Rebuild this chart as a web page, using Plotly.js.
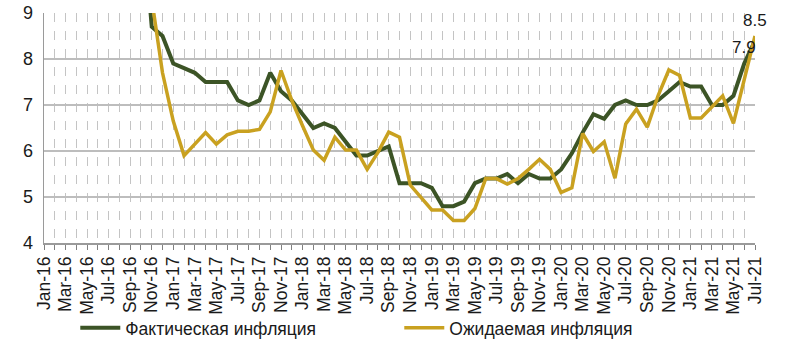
<!DOCTYPE html>
<html>
<head>
<meta charset="utf-8">
<script src="https://cdn.plot.ly/plotly-3.0.1.min.js"></script>
<style>
  html, body { margin: 0; padding: 0; background: #ffffff; }
  #chart { width: 800px; height: 358px; }
</style>
</head>
<body>
<div id="chart"></div>
<script>
// Month labels (Jan-16 .. Jul-21)
const months = [
  "Jan-16","Feb-16","Mar-16","Apr-16","May-16","Jun-16","Jul-16","Aug-16","Sep-16","Oct-16","Nov-16","Dec-16",
  "Jan-17","Feb-17","Mar-17","Apr-17","May-17","Jun-17","Jul-17","Aug-17","Sep-17","Oct-17","Nov-17","Dec-17",
  "Jan-18","Feb-18","Mar-18","Apr-18","May-18","Jun-18","Jul-18","Aug-18","Sep-18","Oct-18","Nov-18","Dec-18",
  "Jan-19","Feb-19","Mar-19","Apr-19","May-19","Jun-19","Jul-19","Aug-19","Sep-19","Oct-19","Nov-19","Dec-19",
  "Jan-20","Feb-20","Mar-20","Apr-20","May-20","Jun-20","Jul-20","Aug-20","Sep-20","Oct-20","Nov-20","Dec-20",
  "Jan-21","Feb-21","Mar-21","Apr-21","May-21","Jun-21","Jul-21"
];

// Фактическая инфляция (values above 9 are off the visible scale)
const actual = [
  13.6, 14.6, 15.6, 16.4, 16.7, 17.1, 17.5, 17.6, 17.4, 11.5, 8.7, 8.5,
  7.9, 7.8, 7.7, 7.5, 7.5, 7.5, 7.1, 7.0, 7.1, 7.7, 7.3, 7.1,
  6.8, 6.5, 6.6, 6.5, 6.2, 5.9, 5.9, 6.0, 6.1, 5.3, 5.3, 5.3,
  5.2, 4.8, 4.8, 4.9, 5.3, 5.4, 5.4, 5.5, 5.3, 5.5, 5.4, 5.4,
  5.6, 5.95, 6.4, 6.8, 6.7, 7.0, 7.1, 7.0, 7.0, 7.1, 7.3, 7.5,
  7.4, 7.4, 7.0, 7.0, 7.2, 7.9, 8.4
];

// Ожидаемая инфляция
const expected = [
  13.0, 13.4, 13.8, 14.2, 14.5, 14.0, 13.5, 13.2, 12.6, 11.4, 9.3, 7.7,
  6.65, 5.9, 6.15, 6.4, 6.15, 6.35, 6.43, 6.43, 6.47, 6.85, 7.75, 7.1,
  6.55, 6.02, 5.8, 6.3, 6.02, 6.02, 5.6, 5.97, 6.41, 6.3, 5.26, 4.98,
  4.72, 4.72, 4.49, 4.49, 4.75, 5.4, 5.4, 5.28, 5.4, 5.6, 5.82, 5.6,
  5.1, 5.2, 6.38, 5.99, 6.2, 5.41, 6.59, 6.91, 6.52, 7.2, 7.76, 7.64,
  6.72, 6.72, 6.95, 7.2, 6.6, 7.55, 8.5
];

const seriesNames = ["Фактическая инфляция", "Ожидаемая инфляция"];
const yTicks = [4, 5, 6, 7, 8, 9];

// label positions: every second month
const xIdx = months.map((m, i) => i);
const tickIdx = xIdx.filter(i => i % 2 === 0);
const tickText = tickIdx.map(i => months[i]);

const FONT = "Liberation Sans, Arial, sans-serif";
const GREEN = "#3c5426";
const GOLD = "#c9a120";

const traces = [
  {
    x: xIdx, y: actual, type: "scatter", mode: "lines",
    name: seriesNames[0],
    line: { color: GREEN, width: 4 },
    hoverinfo: "skip"
  },
  {
    x: xIdx, y: expected, type: "scatter", mode: "lines",
    name: seriesNames[1],
    line: { color: GOLD, width: 3.5 },
    hoverinfo: "skip"
  }
];

const lastA = 65;   // labelled point of the actual series
const lastE = expected.length - 1;

const layout = {
  width: 800, height: 358,
  margin: { l: 44, r: 45, t: 13, b: 109 },
  paper_bgcolor: "#ffffff",
  plot_bgcolor: "#ffffff",
  font: { family: FONT, size: 17, color: "#1a1a1a" },
  showlegend: true,
  legend: {
    orientation: "h",
    x: 0.044, xanchor: "left",
    y: -0.369, yanchor: "middle",
    font: { family: FONT, size: 17.5, color: "#1a1a1a" },
    bgcolor: "rgba(0,0,0,0)",
    entrywidth: 269, entrywidthmode: "pixels",
    itemwidth: 40
  },
  xaxis: {
    type: "linear",
    automargin: false,
    range: [0, months.length - 1],
    tickmode: "array",
    tickvals: tickIdx,
    ticktext: tickText,
    tickangle: -90,
    ticks: "outside", ticklen: 5, tickcolor: "#808080", tickwidth: 1,
    tickfont: { family: FONT, size: 17.5, color: "#1a1a1a" },
    showgrid: true, gridcolor: "#c4c4c4", gridwidth: 1, griddash: "dash",
    showline: true, linecolor: "#9a9a9a", linewidth: 1.5,
    zeroline: false,
    minor: {
      tickmode: "linear", tick0: 0, dtick: 1,
      ticks: "outside", ticklen: 5, tickcolor: "#808080", tickwidth: 1,
      showgrid: true, gridcolor: "#c4c4c4", gridwidth: 1, griddash: "dash"
    },
    fixedrange: true
  },
  yaxis: {
    automargin: false,
    range: [4, 9],
    tickmode: "array",
    tickvals: yTicks,
    ticktext: yTicks.map(String),
    ticks: "",
    ticklabelstandoff: 6,
    tickfont: { family: FONT, size: 18, color: "#1a1a1a" },
    showgrid: true, gridcolor: "#bdbdbd", gridwidth: 1.5,
    showline: true, linecolor: "#9a9a9a", linewidth: 1.5,
    zeroline: false,
    fixedrange: true
  },
  annotations: [
    {
      x: lastA, y: actual[lastA], xref: "x", yref: "y",
      text: actual[lastA].toFixed(1), showarrow: false,
      yshift: 16, font: { family: FONT, size: 17, color: "#1a1a1a" }
    },
    {
      x: lastE, y: expected[lastE], xref: "x", yref: "y",
      text: expected[lastE].toFixed(1), showarrow: false,
      yshift: 16, font: { family: FONT, size: 17, color: "#1a1a1a" }
    }
  ]
};

Plotly.newPlot("chart", traces, layout, { displayModeBar: false, staticPlot: true });
</script>
</body>
</html>
